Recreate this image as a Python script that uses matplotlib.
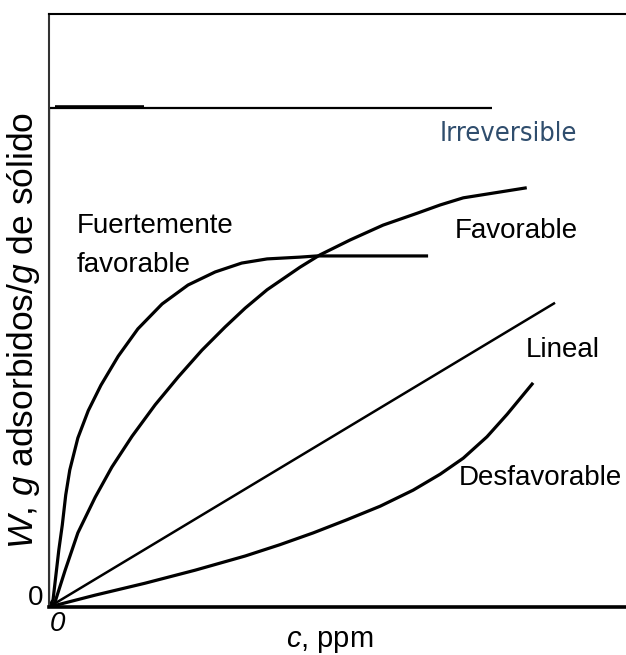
import matplotlib
matplotlib.use('Agg')
import matplotlib.pyplot as plt
from matplotlib import font_manager

plt.rcParams['font.family'] = ['Liberation Sans', 'DejaVu Sans']
plt.rcParams['mathtext.fontset'] = 'custom'
plt.rcParams['mathtext.it'] = 'Liberation Sans:italic'
plt.rcParams['mathtext.rm'] = 'Liberation Sans'

# isotermas (unidades arbitrarias)
irrev_x = [0, 0, 7.68]
irrev_y = [0, 8.41, 8.41]

fuerte_x = [0, 0.07, 0.12, 0.17, 0.23, 0.29, 0.36, 0.50, 0.68, 0.90, 1.20, 1.54,
            1.96, 2.41, 2.88, 3.34, 3.78, 4.35, 4.64, 6.57]
fuerte_y = [0, 0.12, 0.54, 0.96, 1.38, 1.89, 2.31, 2.85, 3.31, 3.74, 4.23, 4.69,
            5.11, 5.43, 5.65, 5.80, 5.87, 5.90, 5.92, 5.92]

fav_x = [0, 0.10, 0.28, 0.50, 0.80, 1.09, 1.44, 1.84, 2.24, 2.65, 3.05, 3.40,
         3.78, 4.35, 4.70, 5.22, 5.79, 6.38, 6.78, 7.18, 8.28]
fav_y = [0, 0.07, 0.62, 1.25, 1.85, 2.36, 2.88, 3.41, 3.88, 4.33, 4.72, 5.04,
         5.35, 5.73, 5.94, 6.19, 6.44, 6.64, 6.78, 6.90, 7.07]

lin_x = [0, 8.77]
lin_y = [0, 5.13]

desf_x = [0, 0.80, 1.66, 2.53, 3.40, 4.00, 4.58, 5.16, 5.74, 6.31, 6.78, 7.18, 7.59, 7.94, 8.39]
desf_y = [0, 0.20, 0.40, 0.62, 0.86, 1.05, 1.25, 1.47, 1.70, 1.97, 2.24, 2.51, 2.87, 3.25, 3.78]

# fuente estrecha para "Irreversible"
narrow = None
for f in font_manager.fontManager.ttflist:
    if f.name == 'Liberation Sans Narrow' and f.style == 'normal' and f.weight == 400:
        narrow = font_manager.FontProperties(fname=f.fname)
        break
if narrow is None:
    for f in font_manager.fontManager.ttflist:
        if 'Condensed' in f.fname and 'Bold' not in f.fname and 'Oblique' not in f.fname \
                and 'DejaVuSans' in f.fname.replace('-', '').replace(' ', ''):
            narrow = font_manager.FontProperties(fname=f.fname)
            break
if narrow is None:
    narrow = font_manager.FontProperties(family='Liberation Sans')

fig = plt.figure(figsize=(6.26, 6.55), dpi=100)
ax = fig.add_axes([49/626, 48/655, 1 - 49/626, (607-14)/655])
ax.set_xlim(0, 10)
ax.set_ylim(0, 10)

kw = dict(color='black', solid_joinstyle='round', solid_capstyle='butt')
ax.plot(irrev_x, irrev_y, lw=1.6, **kw)
ax.plot([0.1, 1.65], [8.43, 8.43], lw=2.6, **kw)
ax.plot(fuerte_x, fuerte_y, lw=2.3, **kw)
ax.plot(fav_x, fav_y, lw=2.3, **kw)
ax.plot(lin_x, lin_y, lw=1.8, **kw)
ax.plot(desf_x, desf_y, lw=2.3, **kw)

ax.spines['right'].set_visible(False)
ax.spines['left'].set_linewidth(1.5)
ax.spines['left'].set_color('#333333')
ax.spines['top'].set_linewidth(1.5)
ax.spines['bottom'].set_linewidth(2.6)
ax.set_xticks([])
ax.set_yticks([])

fs = 20
narrow.set_size(19.5)
ax.text((440-49)/57.7, (607-141)/59.3, 'Irreversible', fontproperties=narrow,
        color='#2f4d6d', va='baseline')
ax.text((77-49)/57.7, (607-233)/59.3, 'Fuertemente', fontsize=fs, va='baseline')
ax.text((77-49)/57.7, (607-272)/59.3, 'favorable', fontsize=fs, va='baseline')
ax.text((455-49)/57.7, (607-238)/59.3, 'Favorable', fontsize=fs, va='baseline')
ax.text((526-49)/57.7, (607-357)/59.3, 'Lineal', fontsize=fs, va='baseline')
ax.text((459-49)/57.7, (607-485)/59.3, 'Desfavorable', fontsize=fs, va='baseline')

fig.text(36/626, 1 - 598/655, '0', fontsize=fs, ha='center', va='center')
fig.text(57/626, 1 - 624/655, '0', fontsize=fs, ha='center', va='center', style='italic')
fig.text(330/626, 1 - 641/655, r'$\it{c}$, ppm', fontsize=21, ha='center', va='center')
fig.text(24/626, 1 - 330/655, r'$\it{W}$, $\it{g}$ adsorbidos/$\it{g}$ de sólido',
         fontsize=25.5, ha='center', va='center', rotation=90)

fig.savefig('out.png', dpi=100)
